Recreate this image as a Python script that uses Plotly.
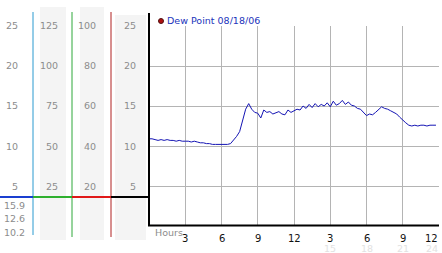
import plotly.graph_objects as go

W, H = 442, 253

# ---- data ----
dew_point = [
    10.9, 10.9, 10.8, 10.7, 10.8, 10.7, 10.8, 10.7,
    10.7, 10.6, 10.7, 10.6, 10.6, 10.6, 10.5, 10.6,
    10.5, 10.4, 10.4, 10.3, 10.3, 10.2, 10.2, 10.2,
    10.2, 10.2, 10.2, 10.3, 10.7, 11.2, 11.8, 13.2,
    14.6, 15.3, 14.6, 14.2, 14.1, 13.5, 14.5, 14.2,
    14.3, 14.0, 14.2, 14.3, 14.0, 13.9, 14.5, 14.2,
    14.4, 14.6, 14.5, 15.0, 14.7, 15.2, 14.8, 15.3,
    14.9, 15.2, 15.0, 15.4, 14.9, 15.6, 15.1, 15.3,
    15.7, 15.2, 15.5, 15.1, 15.0, 14.7, 14.6, 14.2,
    13.8, 14.0, 13.9, 14.2, 14.5, 14.9, 14.7, 14.6,
    14.4, 14.2, 14.0, 13.6, 13.2, 12.9, 12.6, 12.5,
    12.6, 12.5, 12.6, 12.6, 12.5, 12.6, 12.6, 12.6,
]
step_hours = 0.25
hours = [i * step_hours for i in range(len(dew_point))]

main_ticks = [5, 10, 15, 20, 25]
col2_ticks = [25, 50, 75, 100, 125]
col3_ticks = [20, 40, 60, 80, 100]
hour_ticks = [3, 6, 9, 12, 15, 18, 21, 24]
hour_labels = ["3", "6", "9", "12", "3", "6", "9", "12"]
faint_ticks = [15, 18, 21, 24]
faint_labels = ["15", "18", "21", "24"]
stats_labels = ["15.9", "12.6", "10.2"]
legend_label = "Dew Point 08/18/06"

FONT = "DejaVu Sans"
GRAY = "#8c8c8c"


def xp(px):
    return px / W


def yp(py):
    return 1 - py / H


fig = go.Figure()

fig.add_trace(go.Scatter(x=hours, y=dew_point, mode="lines",
                         line=dict(color="#1414b4", width=1),
                         hoverinfo="skip", showlegend=False))

# small tick glyphs
fig.add_trace(go.Scatter(x=[-0.18] * len(main_ticks), y=main_ticks, mode="markers",
                         marker=dict(symbol="x-thin", size=4,
                                     line=dict(width=1, color="#333")),
                         cliponaxis=False, showlegend=False, hoverinfo="skip"))
fig.add_trace(go.Scatter(x=hour_ticks, y=[-0.6] * len(hour_ticks), mode="markers",
                         marker=dict(symbol="x-thin", size=4,
                                     line=dict(width=1, color="#333")),
                         cliponaxis=False, showlegend=False, hoverinfo="skip"))

shapes = []
# column backgrounds
for x0, x1, y0, y1 in [(40, 66, 7, 240), (80, 104, 7, 240), (115, 146, 15, 240)]:
    shapes.append(dict(type="rect", xref="paper", yref="paper",
                       x0=xp(x0), x1=xp(x1), y0=yp(y1), y1=yp(y0),
                       fillcolor="#f4f4f4", line=dict(width=0), layer="below"))
# coloured vertical lines
for x, c, y0, y1 in [(33, "#2a9ad0", 12, 235), (72, "#2fa83a", 12, 237),
                     (111, "#b02020", 12, 237)]:
    shapes.append(dict(type="line", xref="paper", yref="paper",
                       x0=xp(x), x1=xp(x), y0=yp(y1), y1=yp(y0),
                       line=dict(color=c, width=1)))
# coloured horizontal bar
for x0, x1, c in [(0, 33, "#1a3fd0"), (33, 72, "#2fb02f"), (72, 111, "#e01818"),
                  (111, 149, "#000000")]:
    shapes.append(dict(type="line", xref="paper", yref="paper",
                       x0=xp(x0), x1=xp(x1), y0=yp(197), y1=yp(197),
                       line=dict(color=c, width=2)))
# main axis lines
shapes.append(dict(type="line", xref="paper", yref="paper",
                   x0=xp(149), x1=xp(149), y0=yp(226), y1=yp(13),
                   line=dict(color="#000", width=2)))
shapes.append(dict(type="line", xref="paper", yref="paper",
                   x0=xp(148), x1=xp(439), y0=yp(225.5), y1=yp(225.5),
                   line=dict(color="#000", width=2)))

ann = []
lab_font = dict(family=FONT, size=9.5, color=GRAY)
for v in main_ticks:
    ann.append(dict(x=xp(20), y=v, xref="paper", yref="y", text=str(v), showarrow=False,
                    xanchor="right", yanchor="middle", font=lab_font))
    ann.append(dict(x=xp(138), y=v, xref="paper", yref="y", text=str(v), showarrow=False,
                    xanchor="right", yanchor="middle", font=lab_font))
for v in col2_ticks:
    ann.append(dict(x=xp(60), y=v * 25 / 125, xref="paper", yref="y", text=str(v),
                    showarrow=False, xanchor="right", yanchor="middle", font=lab_font))
for v in col3_ticks:
    ann.append(dict(x=xp(98), y=v * 25 / 100, xref="paper", yref="y", text=str(v),
                    showarrow=False, xanchor="right", yanchor="middle", font=lab_font))
for i, s in enumerate(stats_labels):
    ann.append(dict(x=xp(27), y=yp(205 + 13.5 * i), xref="paper", yref="paper", text=s,
                    showarrow=False, xanchor="right", yanchor="middle", font=lab_font))
for v, s in zip(hour_ticks, hour_labels):
    last = v == hour_ticks[-1]
    ann.append(dict(x=v, y=yp(238), xref="x", yref="paper", text=s, showarrow=False,
                    xanchor="right" if last else "center", yanchor="middle",
                    xshift=1 if last else 0,
                    font=dict(family=FONT, size=10, color="#111")))
for v, s in zip(faint_ticks, faint_labels):
    last = v == faint_ticks[-1]
    ann.append(dict(x=v, y=yp(248), xref="x", yref="paper", text=s, showarrow=False,
                    xanchor="right" if last else "center", yanchor="middle",
                    xshift=1 if last else 0,
                    font=dict(family=FONT, size=9.5, color="#e2e2e2")))
ann.append(dict(x=xp(153), y=yp(232), xref="paper", yref="paper", text="Hours",
                showarrow=False, xanchor="left", yanchor="middle", font=lab_font))
ann.append(dict(x=xp(165), y=yp(20.5), xref="paper", yref="paper", text=legend_label,
                showarrow=False, xanchor="left", yanchor="middle",
                font=dict(family=FONT, size=9.5, color="#2233bb")))
shapes.append(dict(type="circle", xref="paper", yref="paper",
                   x0=xp(158.5), x1=xp(163.5), y0=yp(23.5), y1=yp(18.5),
                   fillcolor="#b01010", line=dict(color="#501010", width=1)))

fig.update_layout(
    width=W, height=H, margin=dict(l=0, r=0, t=0, b=0),
    paper_bgcolor="white", plot_bgcolor="white",
    showlegend=False, shapes=shapes, annotations=ann,
    xaxis=dict(domain=[xp(149), xp(439)], range=[0, 24], tickvals=hour_ticks,
               showticklabels=False, showgrid=True, gridcolor="#b4b4b4", gridwidth=1,
               zeroline=False, showline=False, ticks="", fixedrange=True),
    yaxis=dict(domain=[yp(226), yp(26)], range=[0, 25], tickvals=main_ticks,
               showticklabels=False, showgrid=True, gridcolor="#b4b4b4", gridwidth=1,
               zeroline=False, showline=False, ticks="", fixedrange=True),
)

fig.write_html("out.html", config={"displayModeBar": False})
